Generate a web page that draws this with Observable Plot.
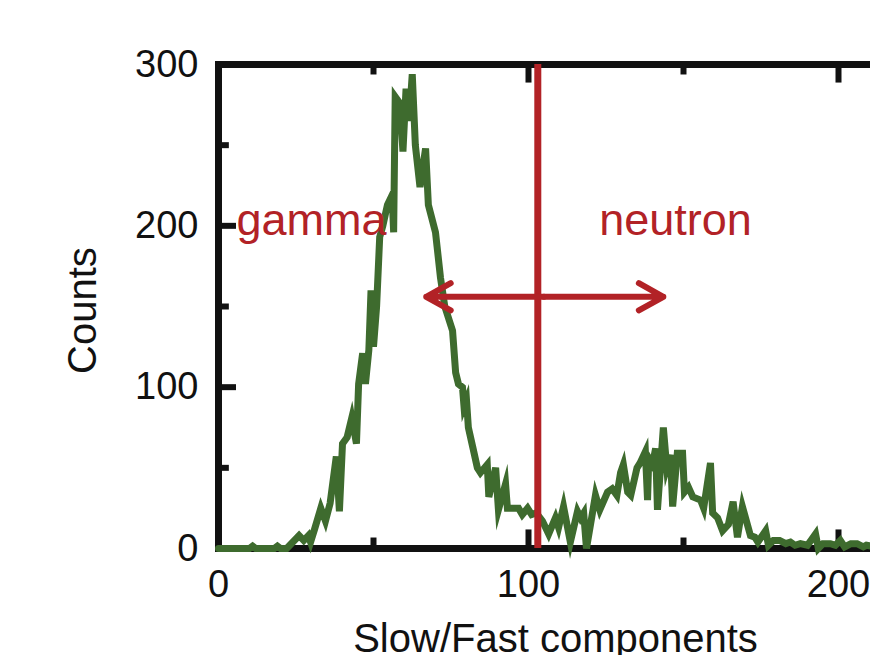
<!DOCTYPE html>
<html><head><meta charset="utf-8">
<script src="https://cdn.jsdelivr.net/npm/d3@7"></script>
<script src="https://cdn.jsdelivr.net/npm/@observablehq/plot@0.6"></script>
<style>
html,body{margin:0;padding:0;background:#fff;overflow:hidden;width:870px;height:655px;}
#chart svg{max-width:none !important;display:block;}
</style></head>
<body><div id="chart"></div>
<script>
// Slow/Fast component values (x) and counts (y)
const slowFast = [0, 5, 10, 11, 12, 18, 19, 20, 22, 23, 26, 27.5, 29, 29.7, 31, 33, 34.5, 36, 38, 39,
  40, 41.5, 43, 44.5, 45.2, 46.5, 47.4, 48.5, 49.2, 50, 51, 52, 53, 54.5, 56, 56.5, 57, 58.5, 59.5, 60.5,
  61.5, 62.5, 63.5, 65, 66.8, 67.7, 70, 71.6, 73, 75.5, 76.5, 77.4, 78.7, 79.2, 80, 80.6, 82, 83.5, 84.5, 86.7,
  87.2, 89.4, 90.3, 92.6, 93.2, 95, 96.8, 98, 99.7, 101, 102.5, 104.5, 106.5, 108.7, 109.7, 111.3, 113.5, 115.8, 116.8, 117.8,
  118.7, 121.6, 123, 125.5, 127, 128.5, 129.7, 130.6, 132, 133, 135, 136, 137.7, 138.4, 138.8, 140, 141, 141.6, 143.5, 144.6,
  145.8, 146.5, 148, 149.7, 150.3, 151.6, 153, 155.5, 156.5, 158.7, 159.4, 161, 162.6, 164.5, 166, 167.4, 169, 171.6, 173, 174,
  176.5, 177.4, 179, 181, 183, 184.5, 186, 187.7, 190, 192.6, 193.5, 195, 197.4, 199, 200.6, 202, 204, 206, 208, 209, 212];
const counts = [0, 0, 0, 1.5, 0, 0, 1.5, 0, 0, 2, 8, 5, 8, 4, 12, 25, 17, 28, 57, 23,
  65, 69, 81, 65, 102, 121, 102, 123, 160, 125, 150, 193, 200, 213, 219, 196, 280, 276, 246, 285,
  265, 294, 250, 224, 248, 213, 196, 168, 150, 135, 109, 102, 100, 88, 92, 75, 63, 50, 47, 52,
  32, 50, 24, 40, 25, 25, 25, 21, 25, 21, 22, 17, 9, 19, 13, 26, 4, 23, 19, 22,
  0, 33, 24, 35, 37, 33, 47, 52, 35, 33, 50, 53, 60, 30, 56, 52, 62, 24, 75, 50,
  58, 26, 59, 59, 35, 38, 32, 30, 25, 53, 22, 19, 11, 15, 29, 7, 26, 8, 7, 4,
  11, 2, 5, 5, 3, 4, 2, 3, 2, 9, 0, 3, 3, 2, 5, 1, 3, 3, 1, 2, 1];

const xTickLabels = [0, 100, 200];
const yTickLabels = [0, 100, 200, 300];
const xMajorTicks = [100, 200];
const xMinorTicks = [50, 150];
const yMajorTicks = [100, 200];
const yMinorTicks = [50, 150, 250];

const xTitle = "Slow/Fast components";
const yTitle = "Counts";

// annotations
const cutValue = [103];
const arrowLevel = 156;
const arrowCenter = 105;
const arrowEnds = [67, 143.5];
const regionLabels = ["gamma", "neutron"];
const regionLabelX = [30, 147.4];
const regionLabelY = 194.4;

const data = slowFast.map((x, i) => ({x, y: counts[i]}));
const arrows = arrowEnds.map(e => ({x1: arrowCenter, x2: e}));
const labels = regionLabels.map((t, i) => ({t, x: regionLabelX[i]}));

const ink = "#111";
const red = "#b22226";
const green = "#3e6b2e";

const plot = Plot.plot({
  width: 940, height: 655,
  marginLeft: 218, marginRight: 9, marginTop: 64, marginBottom: 107,
  x: {domain: [0, 230]},
  y: {domain: [0, 300]},
  style: {fontFamily: "'Liberation Sans', Arial, sans-serif", background: "white", maxWidth: "none", color: ink},
  marks: [
    Plot.axisX({ticks: xTickLabels, tickSize: 0, tickPadding: 22, fontSize: 38, label: null}),
    Plot.axisY({ticks: yTickLabels, tickSize: 0, tickPadding: 20, fontSize: 38, label: null}),
    Plot.ruleX(xMajorTicks, {x: d => d, y1: 0, y2: 11.5, stroke: ink, strokeWidth: 6}),
    Plot.ruleX(xMinorTicks, {x: d => d, y1: 0, y2: 6.5, stroke: ink, strokeWidth: 6}),
    Plot.ruleX(xMajorTicks, {x: d => d, y1: 300, y2: 288.5, stroke: ink, strokeWidth: 6}),
    Plot.ruleX(xMinorTicks, {x: d => d, y1: 300, y2: 293.5, stroke: ink, strokeWidth: 6}),
    Plot.ruleY(yMajorTicks, {y: d => d, x1: 0, x2: 5.8, stroke: ink, strokeWidth: 6}),
    Plot.ruleY(yMinorTicks, {y: d => d, x1: 0, x2: 3.5, stroke: ink, strokeWidth: 6}),
    Plot.frame({stroke: ink, strokeWidth: 7}),
    Plot.line(data, {x: "x", y: "y", stroke: green, strokeWidth: 7, strokeLinejoin: "miter", strokeMiterlimit: 6}),
    Plot.ruleX(cutValue, {x: d => d, stroke: red, strokeWidth: 7}),
    Plot.arrow(arrows, {x1: "x1", x2: "x2", y1: arrowLevel, y2: arrowLevel, stroke: red, strokeWidth: 6, headLength: 7, headAngle: 58}),
    Plot.text(labels, {x: "x", y: regionLabelY, text: "t", fill: red, fontSize: 45, lineAnchor: "bottom", textAnchor: "middle"}),
    Plot.text([yTitle], {text: d => d, frameAnchor: "left", dx: -135, dy: 4, rotate: -90, fontSize: 40, lineAnchor: "middle", textAnchor: "middle", fill: ink}),
    Plot.text([xTitle], {text: d => d, frameAnchor: "bottom", dx: -19.5, dy: 75, lineAnchor: "top", textAnchor: "middle", fontSize: 40, fill: ink})
  ]
});
document.getElementById("chart").appendChild(plot);
</script>
</body></html>
